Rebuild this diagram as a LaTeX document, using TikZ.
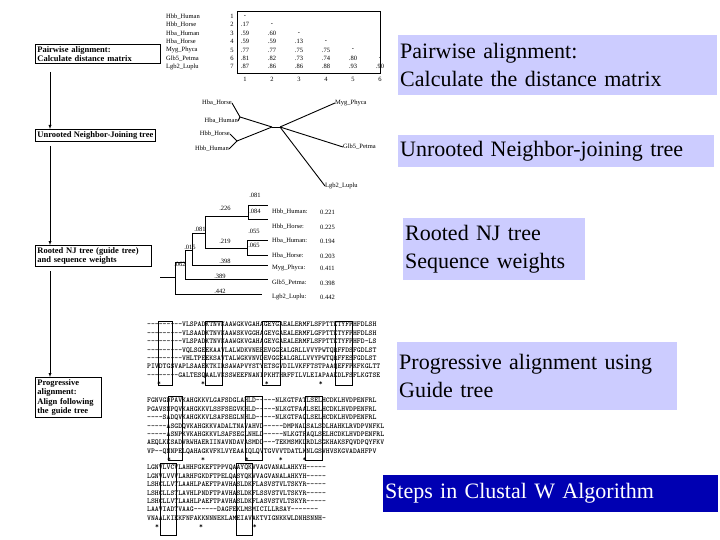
\documentclass[tikz,border=0pt]{standalone}
\usepackage{fontspec}
\setmainfont{Liberation Serif}
\begin{document}
\begin{tikzpicture}[x=1pt,y=-1pt,
 lbox/.style={draw,thick,font=\fontsize{8.5}{9.5}\selectfont\bfseries,align=left,inner sep=2pt,anchor=north west},
 tiny/.style={font=\fontsize{6.5}{7}\selectfont,inner sep=0pt},
 ovl/.style={fill=blue!20,font=\fontsize{22}{28}\selectfont,align=left,inner sep=2pt,anchor=north west},
 br/.style={line width=0.9pt},
 al/.style={font=\ttfamily\bfseries\fontsize{7.4}{8.4}\selectfont,align=left,inner sep=0pt,anchor=north west}]
\useasboundingbox (0,0) rectangle (720,540);
% left boxes
\node[lbox,text width=121pt] (b1) at (35,44) {Pairwise alignment:\\Calculate distance matrix};
\node[lbox] (b2) at (35,129) {Unrooted Neighbor-Joining tree};
\node[lbox,text width=112pt] (b3) at (35,245) {Rooted NJ tree (guide tree)\\and sequence weights};
\node[lbox,text width=62pt] (b4) at (35,377) {Progressive\\alignment:\\Align following\\the guide tree};
\draw[-latex] (50,72) -- (50,129);
\draw[-latex] (50,146) -- (50,245);
\draw[-latex] (50,271) -- (50,377);
% distance matrix
\foreach \n [count=\i] in {Hbb\_Human,Hbb\_Horse,Hba\_Human,Hba\_Horse,Myg\_Phyca,Glb5\_Petma,Lgb2\_Luplu}{
 \node[tiny,anchor=west] (r\i) at (166,8+8.4*\i) {\n};
 \node[tiny] (k\i) at (232,8+8.4*\i) {\i};}
\draw (237,11) rectangle (380,73);
\foreach \i in {1,...,6} \node[tiny] (c\i) at (218+27*\i,79) {\i};
\foreach \c/\r/\v in {1/1/-,1/2/.17,2/2/-,1/3/.59,2/3/.60,3/3/-,1/4/.59,2/4/.59,3/4/.13,4/4/-,
 1/5/.77,2/5/.77,3/5/.75,4/5/.75,5/5/-,1/6/.81,2/6/.82,3/6/.73,4/6/.74,5/6/.80,6/6/-,
 1/7/.87,2/7/.86,3/7/.86,4/7/.88,5/7/.93,6/7/.90}
 \node[tiny] at (218+27*\c,8+8.4*\r) {\v};
% unrooted tree
\coordinate (ct) at (272,127); \coordinate (cr) at (280,127);
\coordinate (j1) at (240,117); \coordinate (j2) at (237,141);
\draw[br] (ct)--(cr);
\draw[br] (ct)--(j1); \draw[br] (ct)--(j2);
\node[tiny,anchor=east] (u1) at (232,103) {Hba\_Horse};
\node[tiny,anchor=east] (u2) at (238,121) {Hba\_Human};
\node[tiny,anchor=east] (u3) at (230,134) {Hbb\_Horse};
\node[tiny,anchor=east] (u4) at (229,149) {Hbb\_Human};
\draw[br] (j1)--(u1.east); \draw[br] (j1)--(u2.east);
\draw[br] (j2)--(u3.east); \draw[br] (j2)--(u4.east);
\node[tiny,anchor=west] (u5) at (335,103) {Myg\_Phyca};
\node[tiny,anchor=west] (u6) at (343,147) {Glb5\_Petma};
\node[tiny,anchor=west] (u7) at (325,186) {Lgb2\_Luplu};
\draw[br] (cr)--(u5.west); \draw[br] (cr)--(u6.west); \draw[br] (cr)--(u7.west);
% rooted tree
\draw[br] (160,277) -- (175,277);
\draw[br] (175,262) -- (175,294) -- (262,294);
\draw[br] (175,262) -- (185,262);
\draw[br] (185,250) -- (185,279) -- (268,279);
\draw[br] (185,250) -- (192,250);
\draw[br] (192,233) -- (192,265) -- (268,265);
\draw[br] (192,233) -- (205,233);
\draw[br] (205,216) -- (205,248) -- (247,248);
\draw[br] (205,216) -- (248,216);
\draw[br] (248,205) -- (248,219) -- (268,219);
\draw[br] (248,205) -- (268,205);
\draw[br] (247,240) -- (247,255) -- (268,255);
\draw[br] (247,240) -- (268,240);
\foreach \x/\y/\t in {255/195/.081,255/211/.084,254/231/.055,254/245/.065,225/208/.226,200/229/.081,190/247/.015,180/264/.062,
 225/241/.219,225/261/.398,220/276/.389,220/291/.442}
 \node[tiny] at (\x,\y) {\t};
\foreach \n/\v/\y in {Hbb\_Human:/0.221/212,Hbb\_Horse:/0.225/227,Hba\_Human:/0.194/241,Hba\_Horse:/0.203/256,
 Myg\_Phyca:/0.411/268,Glb5\_Petma:/0.398/283,Lgb2\_Luplu:/0.442/297}{
 \node[tiny,anchor=west] at (272,\y) {\n}; \node[tiny,anchor=west] at (320,\y) {\v};}
% alignment blocks
\node[al] (al1) at (147,322) {---------VLSPADKTNVKAAWGKVGAHAGEYGAEALERMFLSFPTTKTYFPHFDLSH\\
---------VLSAADKTNVKAAWSKVGGHAGEYGAEALERMFLGFPTTKTYFPHFDLSH\\
---------VLSPADKTNVKAAWGKVGAHAGEYGAEALERMFLSFPTTKTYFPHFD-LS\\
---------VQLSGEEKAAVLALWDKVNEEEVGGEALGRLLVVYPWTQRFFDSFGDLST\\
---------VHLTPEEKSAVTALWGKVNVDEVGGEALGRLLVVYPWTQRFFESFGDLST\\
PIVDTGSVAPLSAAEKTKIRSAWAPVYSTYETSGVDILVKFFTSTPAAQEFFPKFKGLTT\\
--------GALTESQAALVKSSWEEFNANIPKHTHRFFILVLEIAPAAKDLFSFLKGTSE\\
\hspace*{10pt}*\hspace{40pt}*\hspace{60pt}*\hspace{50pt}*};
\draw (158,321) rectangle (172,385); \draw (205,321) rectangle (222,385);
\draw (262,321) rectangle (280,385); \draw (335,321) rectangle (352,385);
\node[al] (al2) at (147,398) {FGNVGDPAVKAHGKKVLGAFSDGLAHLD-----NLKGTFATLSELHCDKLHVDPENFRL\\
PGAVSNPQVKAHGKKVLSSFSEGVKHLD-----NLKGTFAALSELHCDKLHVDPENFRL\\
----SADQVKAHGKKVLSAFSEGLNHLD-----NLKGTFAQLSELHCDKLHVDPENFRL\\
-----ASGDQVKAHGKKVADALTNAVAHVD-----DMPNALSALSDLHAHKLRVDPVNFKL\\
-----ASNPKVKAHGKKVLSAFSEGLNHLD-----NLKGTFAQLSELHCDKLHVDPENFRL\\
AEQLKKSADVRWHAERIINAVNDAVASMDD---TEKMSMKLRDLSGKHAKSFQVDPQYFKV\\
VP--QNNPELQAHAGKVFKLVYEAAIQLQVTGVVVTDATLKNLGSVHVSKGVADAHFPV\\
\hspace*{20pt}*\hspace{30pt}*\hspace{40pt}*\hspace{30pt}*\hspace{20pt}*};
\draw (168,396) rectangle (182,460); \draw (245,396) rectangle (262,460);
\draw (305,396) rectangle (322,460);
\node[al] (al3) at (147,465) {LGNVLVCVLAHHFGKEFTPPVQAAYQKVVAGVANALAHKYH-----\\
LGNVLVVVLARHFGKDFTPELQASYQKVVAGVANALAHKYH-----\\
LSHCLLVTLAAHLPAEFTPAVHASLDKFLASVSTVLTSKYR-----\\
LSHCLLSTLAVHLPNDFTPAVHASLDKFLSSVSTVLTSKYR-----\\
LSHCLLVTLAAHLPAEFTPAVHASLDKFLASVSTVLTSKYR-----\\
LAAVIADTVAAG------DAGFEKLMSMICILLRSAY-------\\
VNAALKIEKFNFAKKNNNEKLAMEIAVAKTVIGNKKWLDNHSNNH-\\
\hspace*{8pt}*\hspace{40pt}*\hspace{50pt}*};
\draw (160,463) rectangle (176,535); \draw (236,463) rectangle (252,535);
% overlay boxes
\node[ovl,text width=315pt,minimum height=60pt] (o1) at (398,35) {Pairwise alignment:\\Calculate the distance matrix};
\node[ovl,text width=312pt,minimum height=32pt] (o2) at (398,135) {Unrooted Neighbor-joining tree};
\node[ovl,text width=178pt,minimum height=62pt] (o3) at (403,218) {Rooted NJ tree\\Sequence weights};
\node[ovl,text width=276pt,minimum height=68pt] (o4) at (397,342) {Progressive alignment using\\Guide tree};
\node[ovl,fill=blue!70!black,text=white,text width=331pt,minimum height=37pt,anchor=north west] (o5) at (383,475) {Steps in Clustal W Algorithm};
\end{tikzpicture}
\end{document}
